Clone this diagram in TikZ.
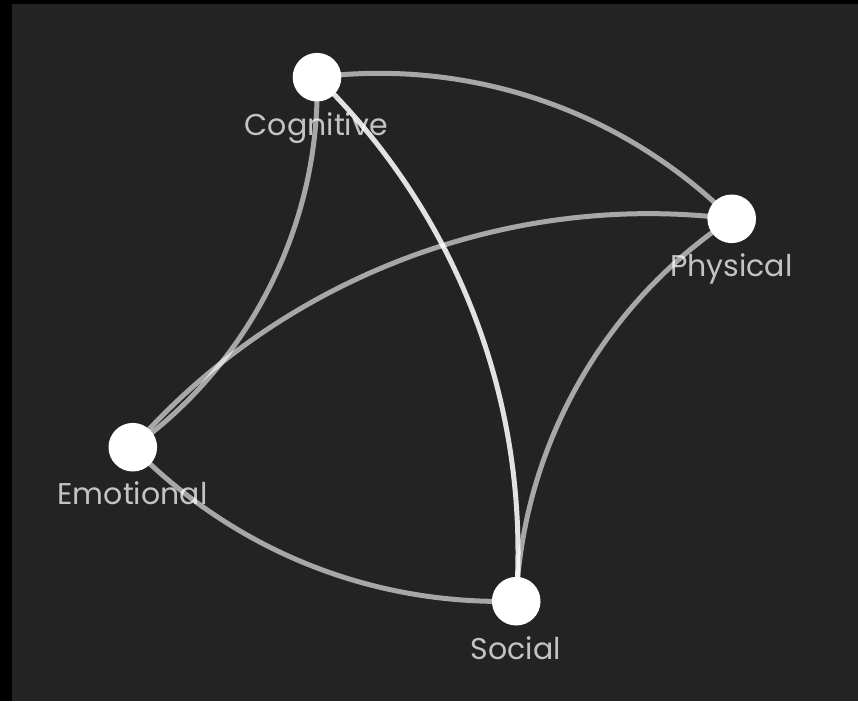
\documentclass[tikz,border=0pt]{standalone}
\usepackage{fontspec}
\setmainfont{Poppins}
\pgfdeclarelayer{bg}
\pgfdeclarelayer{edges}
\pgfsetlayers{bg,edges,main}
\definecolor{bgc}{HTML}{232323}
\begin{document}
\begin{tikzpicture}[x=1pt,y=-1pt,
  dot/.style={circle,fill=white,minimum size=48.6pt,inner sep=0pt},
  lbl/.style={text=white,text opacity=0.73,font=\fontsize{30}{36}\selectfont,anchor=base,inner sep=0pt},
  link/.style={draw=white,draw opacity=0.6,line width=5pt,looseness=0.9},
  strong/.style={draw opacity=0.87}]
\useasboundingbox (0,0) rectangle (858,701);
\begin{pgfonlayer}{bg}
  \fill[black] (0,0) rectangle (858,701);
  \fill[bgc] (12,4) rectangle (858,701);
\end{pgfonlayer}
\node[dot] (cog) at (317,77.2) {};
\node[dot] (phy) at (731.7,218.8) {};
\node[dot] (emo) at (132.8,447.2) {};
\node[dot] (soc) at (516.2,601.2) {};
\node[lbl] (cogl) at (316.3,135) {Cognitive};
\node[lbl] (phyl) at (731.2,276.7) {Physical};
\node[lbl] (emol) at (132.5,504) {Emotional};
\node[lbl] (socl) at (515.8,659) {Social};
\begin{pgfonlayer}{edges}
  \draw[link] (cog.center) to[bend left=26] (phy.center);
  \draw[link] (cog.center) to[bend left=28] (emo.center);
  \draw[link,strong] (cog.center) to[bend left=25] (soc.center);
  \draw[link] (emo.center) to[bend left=28] (phy.center);
  \draw[link] (soc.center) to[bend left=23.5] (emo.center);
  \draw[link] (soc.center) to[bend left=27] (phy.center);
\end{pgfonlayer}
\end{tikzpicture}
\end{document}
